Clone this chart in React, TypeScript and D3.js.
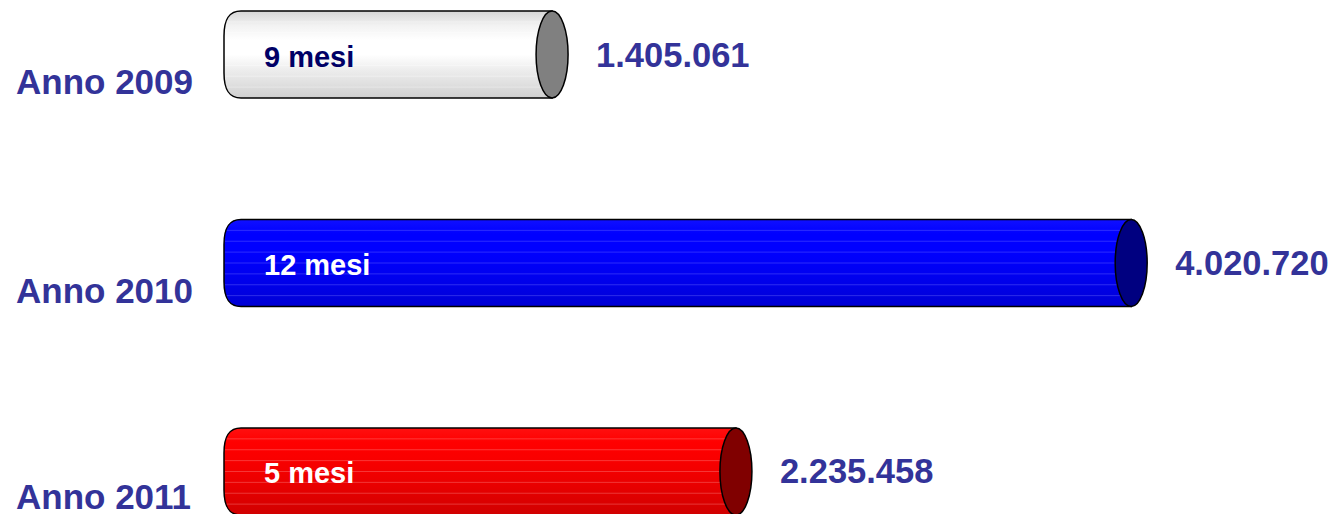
import React from "react";
import * as d3 from "d3";

const years = ["Anno 2009", "Anno 2010", "Anno 2011"];
const values = [1405061, 4020720, 2235458];
const months = ["9 mesi", "12 mesi", "5 mesi"];

const WIDTH = 1339;
const HEIGHT = 514;
const FONT = "'Liberation Sans', Arial, sans-serif";
const LABEL = "#333399";

// per-bar styling: gradient stops, cap colour, inner text colour, stripe colour
const STYLES = [
  {
    stops: ["#d6d6d6", "#f2f2f2", "#ffffff", "#ffffff", "#eeeeee", "#e0e0e0", "#cfcfcf"],
    cap: "#808080",
    text: "#000066",
    stripe: "#ffffff",
  },
  {
    stops: ["#1010ff", "#0000ff", "#0000ff", "#0000f8", "#0000ee", "#0000e2", "#0000d4"],
    cap: "#000080",
    text: "#ffffff",
    stripe: "#7f7fff",
  },
  {
    stops: ["#ff1010", "#ff0000", "#fa0000", "#f20000", "#e80000", "#dc0000", "#d00000"],
    cap: "#800000",
    text: "#ffffff",
    stripe: "#ff9f9f",
  },
];

export default function App() {
  const x = d3.scaleLinear().domain([0, 4000000]).range([241, 241 + 4000000 * 0.0002214]);
  const y = d3
    .scaleBand<string>()
    .domain(years)
    .range([11, 11 + 2 * 208.5 + 87])
    .paddingInner(0.5827)
    .paddingOuter(0);
  const h = y.bandwidth();
  const rx = 16;
  const fmt = (v: number) => d3.format(",")(v).replace(/,/g, ".");

  return (
    <svg
      width={WIDTH}
      height={HEIGHT}
      style={{ position: "fixed", left: 0, top: 0, background: "#fff" }}
      fontFamily={FONT}
      fontWeight="bold"
    >
      <defs>
        {STYLES.map((s, i) => (
          <linearGradient key={i} id={`g${i}`} x1="0" y1="0" x2="0" y2="1">
            {s.stops.map((c, j) => (
              <stop key={j} offset={j / (s.stops.length - 1)} stopColor={c} />
            ))}
          </linearGradient>
        ))}
      </defs>
      {years.map((yr, i) => {
        const top = y(yr)!;
        const bottom = top + h;
        const mid = top + h / 2;
        const x0 = x(0);
        const xr = x(values[i]);
        const s = STYLES[i];
        const body = `M${x0},${top} L${xr},${top} L${xr},${bottom} L${x0},${bottom}
          C${x0 - 12},${bottom} ${x0 - 17},${bottom - 8} ${x0 - 17},${bottom - 25}
          L${x0 - 17},${top + 25} C${x0 - 17},${top + 8} ${x0 - 12},${top} ${x0},${top} Z`;
        const stripes = d3.range(1, 8).map((k) => top + (k * h) / 8);
        return (
          <g key={yr}>
            <path d={body} fill={`url(#g${i})`} />
            {stripes.map((sy, k) => (
              <line
                key={k}
                x1={x0 - 16}
                x2={xr}
                y1={sy}
                y2={sy}
                stroke={s.stripe}
                strokeOpacity={0.35}
                strokeWidth={1}
              />
            ))}
            <path d={body} fill="none" stroke="#000" strokeWidth={1.5} />
            <ellipse cx={xr} cy={mid} rx={rx} ry={h / 2} fill={s.cap} stroke="#000" strokeWidth={1.5} />
            <text x={264} y={mid + 12} fontSize={29} fill={s.text}>
              {months[i]}
            </text>
            <text x={xr + rx + 28} y={mid + 12} fontSize={34.5} fill={LABEL}>
              {fmt(values[i])}
            </text>
            <text x={16} y={Math.min(bottom - 4, HEIGHT - 5)} fontSize={35} fill={LABEL}>
              {yr}
            </text>
          </g>
        );
      })}
    </svg>
  );
}
